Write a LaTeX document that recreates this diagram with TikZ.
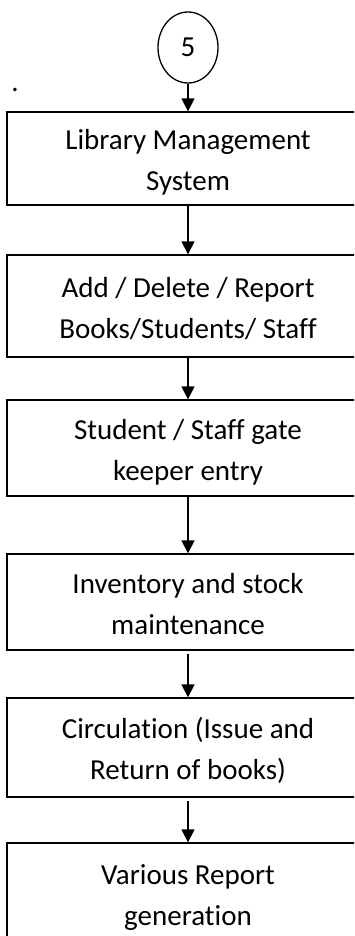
\documentclass[tikz,border=0pt]{standalone}
\usepackage{fontspec}
\setmainfont{Carlito}[Ligatures=NoCommon]
\usetikzlibrary{arrows.meta,shapes.geometric}
\newcommand{\tops}{\rule{0pt}{29pt}}
\newcommand{\bots}{\rule[-6pt]{0pt}{6pt}}
\begin{document}
\begin{tikzpicture}[x=1pt,y=-1pt,
  box/.style={draw, line width=1.3pt, minimum width=362pt, align=center, inner sep=0pt,
    font=\fontsize{29}{41}\selectfont},
  arr/.style={line width=1.3pt, -{Triangle[width=13pt,length=13pt]}}]
\useasboundingbox (0,0) rectangle (354,936);
\clip (0,0) rectangle (354,936);
\node[draw, ellipse, line width=1.3pt, minimum width=60pt, minimum height=71pt, inner sep=0pt,
  font=\fontsize{29}{35}\selectfont] (c) at (188,47.5) {5};
\node[font=\fontsize{29}{35}\selectfont, inner sep=0pt, anchor=base] (dot) at (15,92) {.};
\node[box, minimum height=93pt] (b1) at (188,158.5) {\tops Library Management\\System\bots};
\node[box, minimum height=102pt] (b2) at (188,306) {\tops Add / Delete / Report\\Books/Students/ Staff\bots};
\node[box, minimum height=96pt] (b3) at (188,448) {\tops Student / Staff gate\\keeper entry\bots};
\node[box, minimum height=96pt] (b4) at (188,602) {\tops Inventory and stock\\maintenance\bots};
\node[box, minimum height=99pt] (b5) at (188,747.5) {\tops Circulation (Issue and\\Return of books)\bots};
\node[box, minimum height=100pt] (b6) at (188,893) {\tops Various Report\\generation\bots};
\draw[arr] (c) -- (b1);
\draw[arr] (b1) -- (b2);
\draw[arr] (b2) -- (b3);
\draw[arr] (b3) -- (b4);
\draw[arr, shorten <=3pt] (b4) -- (b5);
\draw[arr, shorten <=3pt] (b5) -- (b6);
\end{tikzpicture}
\end{document}
